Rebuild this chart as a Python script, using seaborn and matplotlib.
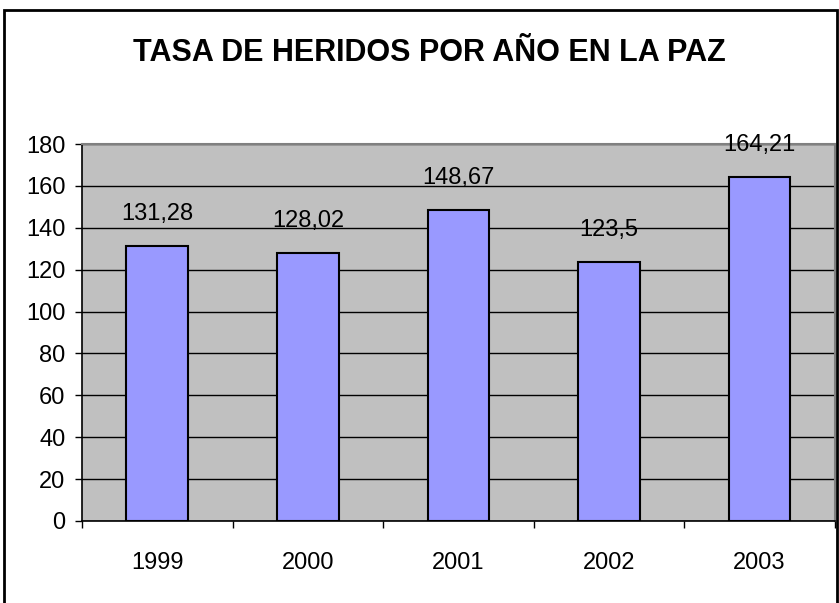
import matplotlib
matplotlib.use("Agg")
import matplotlib.pyplot as plt
import seaborn as sns
import pandas as pd
from matplotlib.patches import Rectangle

years = ["1999", "2000", "2001", "2002", "2003"]
rates = [131.28, 128.02, 148.67, 123.5, 164.21]
rate_labels = ["131,28", "128,02", "148,67", "123,5", "164,21"]
y_ticks = [0, 20, 40, 60, 80, 100, 120, 140, 160, 180]

sns.set_style("white")
plt.rcParams['font.family'] = ['Liberation Sans', 'DejaVu Sans']
plt.rcParams['text.color'] = 'black'
plt.rcParams['xtick.color'] = 'black'
plt.rcParams['ytick.color'] = 'black'

data = pd.DataFrame({'year': years, 'rate': rates})

fig = plt.figure(figsize=(8.39, 6.03), dpi=100)
ax = fig.add_axes([0.0977, 0.136, 0.8973, 0.625])
ax.set_facecolor('#C0C0C0')

sns.barplot(x='year', y='rate', data=data, color='#9999FF', saturation=1,
            width=0.41, edgecolor='black', linewidth=1.5, ax=ax, zorder=3)

for i, (v, lab) in enumerate(zip(rates, rate_labels)):
    ax.annotate(lab, (i, v), xytext=(0, 23), textcoords='offset points',
                ha='center', va='center', fontsize=17, color='black', zorder=4)

ax.set_ylim(0, 180)
ax.set_xlim(-0.5, len(years) - 0.5)
ax.set_yticks(y_ticks)
ax.yaxis.grid(True, color='black', linewidth=1, zorder=0)
ax.set_axisbelow(True)

# category labels in the middle, tick marks at the boundaries
ax.set_xticks(range(len(years)))
ax.set_xticklabels(years)
ax.set_xticks([i - 0.5 for i in range(len(years) + 1)], minor=True)
ax.tick_params(axis='x', which='major', length=0, pad=22, labelsize=17)
ax.tick_params(axis='x', which='minor', length=5, width=1, color='black',
               direction='out', bottom=True)
ax.tick_params(axis='y', length=5, width=1, color='black', direction='out',
               left=True, pad=7, labelsize=17)

ax.set_xlabel('')
ax.set_ylabel('')

for side in ['top', 'right']:
    ax.spines[side].set_color('#808080')
    ax.spines[side].set_linewidth(1.5)
for side in ['left', 'bottom']:
    ax.spines[side].set_color('black')
    ax.spines[side].set_linewidth(1.2)

fig.text(0.512, 0.912, 'TASA DE HERIDOS POR AÑO EN LA PAZ', ha='center',
         va='center', fontsize=22, fontweight='bold', color='black')

fig.patches.append(Rectangle((0.005, -0.01), 0.993, 0.993, transform=fig.transFigure,
                             fill=False, edgecolor='black', linewidth=2))

fig.savefig('out.png', dpi=100)
